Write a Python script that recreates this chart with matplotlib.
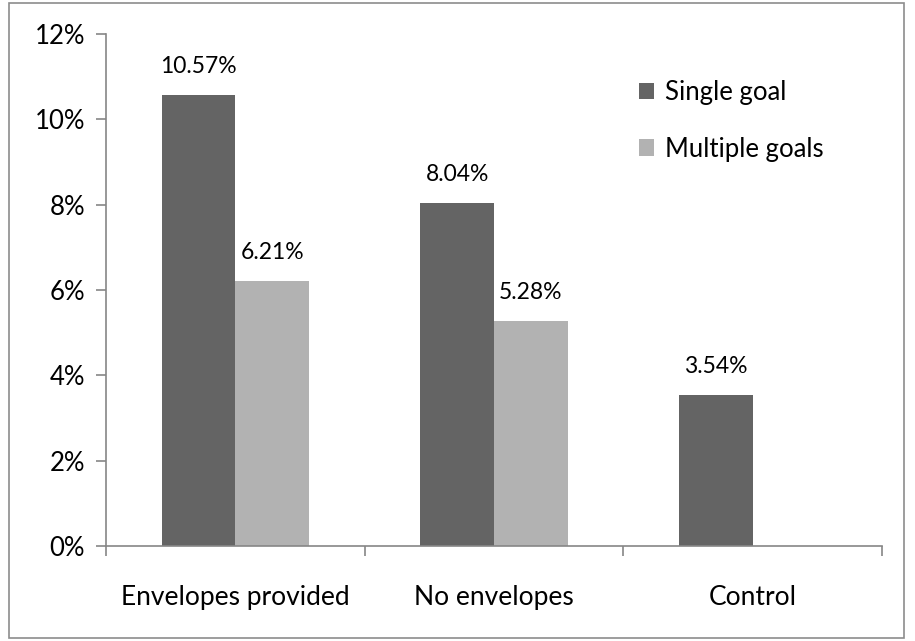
import numpy as np
import matplotlib.pyplot as plt
from matplotlib.patches import Rectangle
from matplotlib.ticker import FuncFormatter

plt.rcParams['font.family'] = ['Lato', 'DejaVu Sans']

groups = ['Envelopes provided', 'No envelopes', 'Control']
single_goal = [10.57, 8.04, 3.54]
multiple_goals = [6.21, 5.28, None]

dark = '#646464'
light = '#b2b2b2'
axcol = '#868686'

fig = plt.figure(figsize=(9.15, 6.41), dpi=100)
# outer frame round the whole chart
fig.patches.append(Rectangle((9 / 915, 3 / 641), 895 / 915, 635 / 641,
                             transform=fig.transFigure, fill=False,
                             edgecolor='#8c8c8c', linewidth=1.2))

ax = fig.add_axes([106 / 915, 95 / 641, 776 / 915, 512 / 641])
x = np.arange(len(groups))
w = 0.285

for i in range(len(groups)):
    ax.bar(x[i] - w / 2, single_goal[i], w, color=dark,
           label='Single goal' if i == 0 else None)
    ax.text(x[i] - w / 2, single_goal[i] + 0.42, f'{single_goal[i]:.2f}%',
            ha='center', va='bottom', fontsize=16.5)
    if multiple_goals[i] is not None:
        ax.bar(x[i] + w / 2, multiple_goals[i], w, color=light,
               label='Multiple goals' if i == 0 else None)
        ax.text(x[i] + w / 2, multiple_goals[i] + 0.42, f'{multiple_goals[i]:.2f}%',
                ha='center', va='bottom', fontsize=16.5)

ax.set_xlim(-0.5, 2.5)
ax.set_ylim(0, 12)
ax.set_yticks(range(0, 13, 2))
ax.yaxis.set_major_formatter(FuncFormatter(lambda v, p: f'{v:.0f}%'))
ax.set_xticks(x)
ax.set_xticklabels(groups)
ax.set_xticks([-0.5, 0.5, 1.5, 2.5], minor=True)

for s in ['top', 'right']:
    ax.spines[s].set_visible(False)
for s in ['left', 'bottom']:
    ax.spines[s].set_color(axcol)
    ax.spines[s].set_linewidth(1.2)

ax.tick_params(axis='y', length=7, width=1.2, color=axcol, labelsize=18.5, pad=8)
ax.tick_params(axis='x', which='major', length=0, labelsize=19, pad=28)
ax.tick_params(axis='x', which='minor', length=7, width=1.2, color=axcol)

ax.legend(loc='upper left', bbox_to_anchor=(0.657, 0.955), frameon=False,
          fontsize=18.5, handlelength=0.6, handleheight=0.6,
          handletextpad=0.4, labelspacing=1.22)

fig.savefig('out.png', dpi=100)
